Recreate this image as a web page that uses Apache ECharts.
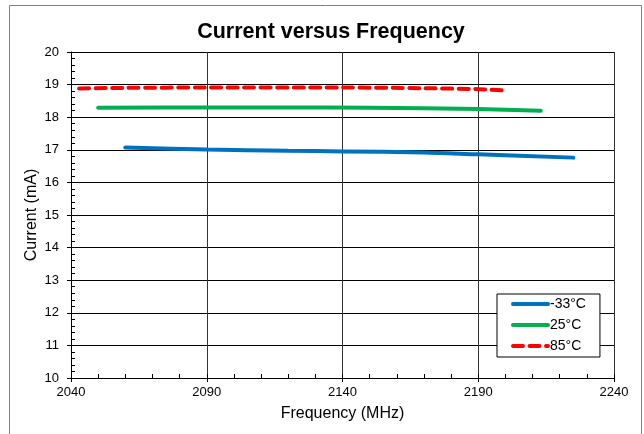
<!DOCTYPE html>
<html>
<head>
<meta charset="utf-8">
<script src="https://cdn.jsdelivr.net/npm/echarts@6/dist/echarts.min.js"></script>
<style>
html,body{margin:0;padding:0;background:#fff;}
#chart{width:644px;height:434px;}
</style>
</head>
<body>
<div id="chart"></div>
<script>
// ---- data ----
var seriesNames = ['-33\u00B0C', '25\u00B0C', '85\u00B0C'];
var freqM33 = [2060, 2090, 2120, 2140, 2170, 2190, 2225];
var currM33 = [17.07, 17.01, 16.97, 16.95, 16.92, 16.86, 16.76];
var freq25  = [2050, 2090, 2120, 2150, 2190, 2213];
var curr25  = [18.29, 18.30, 18.30, 18.29, 18.25, 18.20];
var freq85  = [2043, 2060, 2090, 2140, 2170, 2190, 2200];
var curr85  = [18.88, 18.90, 18.91, 18.91, 18.89, 18.86, 18.82];
var xTicks = [2040, 2090, 2140, 2190, 2240];
var yTicks = [10, 11, 12, 13, 14, 15, 16, 17, 18, 19, 20];

function zip(a, b) { return a.map(function (v, i) { return [v, b[i]]; }); }

var FONT = 'Liberation Sans, Arial, sans-serif';
var chart = echarts.init(document.getElementById('chart'), null, {renderer: 'canvas'});

var option = {
  animation: false,
  backgroundColor: '#fff',
  title: {
    text: 'Current versus Frequency',
    left: 326,
    textAlign: 'center',
    top: 16,
    textStyle: {fontFamily: FONT, fontSize: 21.5, fontWeight: 'bold', color: '#000'}
  },
  graphic: [{
    type: 'rect',
    shape: {x: 9.5, y: 5.5, width: 632, height: 440},
    style: {fill: 'none', stroke: '#808080', lineWidth: 1},
    silent: true,
    z: -1
  }],
  grid: {
    left: 71, top: 52, width: 543, height: 326
  },
  legend: {
    orient: 'vertical',
    left: 497, top: 294,
    padding: [3, 14, 4, 14],
    itemWidth: 35, itemHeight: 14, itemGap: 7,
    backgroundColor: '#fff',
    borderColor: '#000', borderWidth: 1,
    itemStyle: {opacity: 0},
    lineStyle: {width: 4},
    data: seriesNames,
    textStyle: {fontFamily: FONT, fontSize: 14, color: '#000', padding: [0, 0, 0, -3]}
  },
  xAxis: [{
    type: 'value',
    min: xTicks[0], max: xTicks[xTicks.length - 1], interval: 50,
    position: 'bottom',
    name: 'Frequency (MHz)',
    nameLocation: 'middle', nameGap: 28, nameMoveOverlap: false,
    nameTextStyle: {fontFamily: FONT, fontSize: 16, color: '#000'},
    axisLine: {show: true, lineStyle: {color: '#000', width: 1}},
    axisTick: {show: true, inside: true, length: 4, lineStyle: {color: '#000', width: 1}},
    minorTick: {show: true, splitNumber: 5, length: 4, lineStyle: {color: '#000', width: 1}},
    axisLabel: {fontFamily: FONT, fontSize: 13, color: '#000', margin: 8,
      formatter: function (v) { return String(v); }},
    splitLine: {show: true, lineStyle: {color: '#333', width: 1}}
  }, {
    type: 'value',
    min: xTicks[0], max: xTicks[xTicks.length - 1], interval: 50,
    position: 'bottom',
    axisLine: {show: false},
    axisTick: {show: true, inside: false, length: 4, lineStyle: {color: '#000', width: 1}},
    axisLabel: {show: false},
    splitLine: {show: false}
  }],
  yAxis: [{
    type: 'value',
    min: yTicks[0], max: yTicks[yTicks.length - 1], interval: 1,
    position: 'left',
    name: 'Current (mA)',
    nameLocation: 'middle', nameGap: 31, nameMoveOverlap: false,
    nameTextStyle: {fontFamily: FONT, fontSize: 16, color: '#000'},
    axisLine: {show: true, lineStyle: {color: '#000', width: 1}},
    axisTick: {show: true, inside: true, length: 4, lineStyle: {color: '#000', width: 1}},
    minorTick: {show: true, splitNumber: 5, length: 4, lineStyle: {color: '#000', width: 1}},
    axisLabel: {fontFamily: FONT, fontSize: 13, color: '#000', margin: 12},
    splitLine: {show: true, lineStyle: {color: '#000', width: 1}}
  }, {
    type: 'value',
    min: yTicks[0], max: yTicks[yTicks.length - 1], interval: 1,
    position: 'left',
    axisLine: {show: false},
    axisTick: {show: true, inside: false, length: 4, lineStyle: {color: '#000', width: 1}},
    axisLabel: {show: false},
    splitLine: {show: false}
  }],
  series: [{
    name: seriesNames[0], type: 'line', xAxisIndex: 0, yAxisIndex: 0,
    data: zip(freqM33, currM33), smooth: 0.3, symbol: 'none',
    lineStyle: {color: '#0070C0', width: 4, cap: 'round'},
    itemStyle: {color: '#0070C0'}
  }, {
    name: seriesNames[1], type: 'line', xAxisIndex: 0, yAxisIndex: 0,
    data: zip(freq25, curr25), smooth: 0.3, symbol: 'none',
    lineStyle: {color: '#00B050', width: 4, cap: 'round'},
    itemStyle: {color: '#00B050'}
  }, {
    name: seriesNames[2], type: 'line', xAxisIndex: 1, yAxisIndex: 1,
    data: zip(freq85, curr85), smooth: 0.3, symbol: 'none',
    lineStyle: {color: '#FF0000', width: 4, cap: 'round', type: [10, 6.5]},
    itemStyle: {color: '#FF0000'}
  }]
};
chart.setOption(option);
</script>
</body>
</html>
